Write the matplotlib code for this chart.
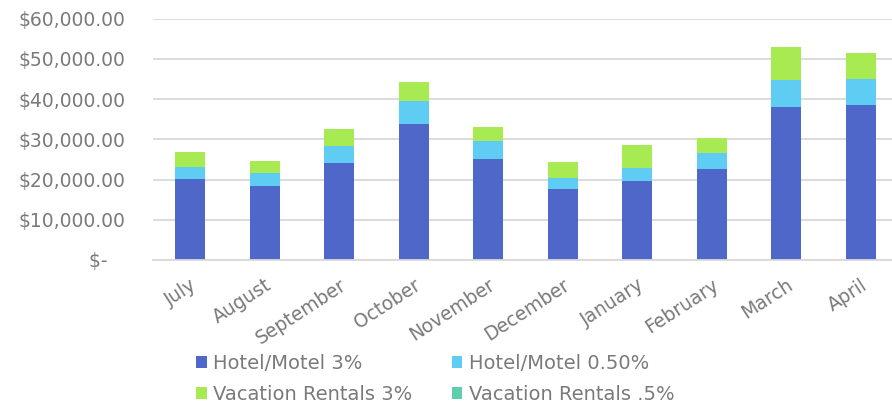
import numpy as np
import matplotlib
matplotlib.use("Agg")
import matplotlib.pyplot as plt
from matplotlib.ticker import FuncFormatter

months = ["July", "August", "September", "October", "November", "December",
          "January", "February", "March", "April"]
hotel_3 = [20100, 18400, 24200, 33700, 25200, 17600, 19700, 22700, 38100, 38600]
hotel_05 = [3100, 3200, 4200, 5800, 4300, 2800, 3200, 3800, 6700, 6500]
vacation_3 = [3700, 2900, 4100, 4800, 3500, 4000, 5600, 3800, 8100, 6300]
vacation_05 = [0, 0, 0, 0, 0, 0, 0, 0, 0, 0]
series_names = ["Hotel/Motel 3%", "Hotel/Motel 0.50%",
                "Vacation Rentals 3%", "Vacation Rentals .5%"]
colors = ["#4E67C8", "#5ECCF3", "#A7EA52", "#5DCEAF"]

plt.rcParams['font.family'] = ['DejaVu Sans']
txt = "#7A7A7A"

fig = plt.figure(figsize=(8.92, 4.09), dpi=100)
ax = fig.add_axes([153/892, 1-260/409, 1-153/892, (260-18.7)/409])

x = np.arange(len(months))
bottom = np.zeros(len(months))
for vals, name, c in zip([hotel_3, hotel_05, vacation_3, vacation_05], series_names, colors):
    ax.bar(x, vals, 0.4, bottom=bottom, color=c, label=name, zorder=2)
    bottom += np.array(vals)

ax.set_ylim(0, 60000)
ax.set_xlim(-0.5, 9.42)
ax.set_yticks(np.arange(0, 60001, 10000))
# accounting style: zero shown as "$-" set a little to the left
ax.yaxis.set_major_formatter(FuncFormatter(lambda v, p: "$-   " if v == 0 else "${:,.2f}".format(v)))
ax.grid(axis='y', color="#D9D9D9", linewidth=1.3, zorder=0)
for s in ["top", "right", "left"]:
    ax.spines[s].set_visible(False)
ax.spines["bottom"].set_color("#D9D9D9")
ax.spines["bottom"].set_linewidth(1.3)
ax.tick_params(axis='both', length=0, colors=txt, labelsize=13.5)
ax.tick_params(axis='y', pad=20)
ax.set_xticks(x)
ax.set_xticklabels(months, rotation=33, ha='right', rotation_mode='anchor')
ax.tick_params(axis='x', pad=11)

handles, labels = ax.get_legend_handles_labels()
order = [0, 2, 1, 3]
fig.legend([handles[i] for i in order], [labels[i] for i in order],
           loc='center', bbox_to_anchor=(0.488, 0.074), ncol=2,
           frameon=False, fontsize=14, labelcolor=txt, handlelength=0.55,
           handleheight=0.55, handletextpad=0.35, columnspacing=2.0, labelspacing=0.6)

fig.savefig("out.png", dpi=100)
